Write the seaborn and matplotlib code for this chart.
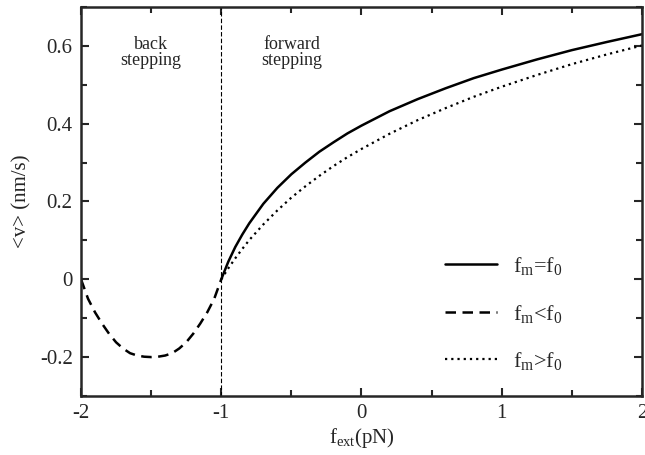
import matplotlib
matplotlib.use("Agg")
import matplotlib.pyplot as plt
import seaborn as sns
import pandas as pd
from matplotlib.ticker import MultipleLocator

# data
x_fwd = [-1.0, -0.95, -0.9, -0.85, -0.8, -0.7, -0.6, -0.5, -0.4, -0.3, -0.2, -0.1, 0.0,
         0.2, 0.4, 0.6, 0.8, 1.0, 1.25, 1.5, 1.75, 2.0]
v_equal = [0.0, 0.045, 0.083, 0.115, 0.144, 0.194, 0.235, 0.270, 0.300, 0.328, 0.352, 0.375, 0.395,
           0.432, 0.463, 0.491, 0.517, 0.539, 0.565, 0.589, 0.610, 0.630]
v_greater = [0.0, 0.028, 0.054, 0.078, 0.101, 0.141, 0.177, 0.210, 0.239, 0.266, 0.291, 0.314, 0.335,
             0.374, 0.409, 0.440, 0.469, 0.495, 0.525, 0.553, 0.578, 0.601]
x_back = [-2.0, -1.95, -1.9, -1.85, -1.8, -1.75, -1.7, -1.65, -1.6, -1.55, -1.5, -1.45, -1.4,
          -1.35, -1.3, -1.25, -1.2, -1.15, -1.1, -1.05, -1.0]
v_less = [0.0, -0.05, -0.085, -0.114, -0.14, -0.162, -0.178, -0.19, -0.196, -0.199, -0.2, -0.199,
          -0.196, -0.19, -0.178, -0.162, -0.14, -0.114, -0.085, -0.05, 0.0]

labels = [r"f$_{\rm m}$=f$_0$", r"f$_{\rm m}$<f$_0$", r"f$_{\rm m}$>f$_0$"]
region_labels = ["back\nstepping", "forward\nstepping"]
x_ticks = [-2, -1, 0, 1, 2]
y_ticks = [-0.2, 0, 0.2, 0.4, 0.6]
y_tick_labels = ["-0.2", "0", "0.2", "0.4", "0.6"]

sns.set_style("ticks")
plt.rcParams["font.family"] = ["Liberation Serif", "DejaVu Serif"]
plt.rcParams["mathtext.fontset"] = "custom"
plt.rcParams["mathtext.rm"] = "Liberation Serif"
plt.rcParams["mathtext.it"] = "Liberation Serif:italic"

df_eq = pd.DataFrame({"x": x_fwd, "v": v_equal})
df_gt = pd.DataFrame({"x": x_fwd, "v": v_greater})
df_lt = pd.DataFrame({"x": x_back, "v": v_less})

fig = plt.figure(figsize=(6.45, 4.55), dpi=100)
ax = fig.add_axes([0.1256, 0.1297, 0.8697, 0.855])

sns.lineplot(data=df_eq, x="x", y="v", ax=ax, color="black", lw=1.8, label=labels[0])
sns.lineplot(data=df_lt, x="x", y="v", ax=ax, color="black", lw=1.8, label=labels[1])
ax.lines[-1].set_dashes([4.2, 2.6])
sns.lineplot(data=df_gt, x="x", y="v", ax=ax, color="black", lw=1.6, label=labels[2])
ax.lines[-1].set_dashes([1, 1.8])

ax.axvline(-1, color="black", lw=0.8, ls=(0, (4, 2)))

ax.set_xlim(-2, 2)
ax.set_ylim(-0.3, 0.7)
ax.set_xticks(x_ticks)
ax.set_xticklabels([str(t) for t in x_ticks])
ax.set_yticks(y_ticks)
ax.set_yticklabels(y_tick_labels)
ax.xaxis.set_minor_locator(MultipleLocator(0.5))
ax.yaxis.set_minor_locator(MultipleLocator(0.1))
ax.tick_params(which="both", direction="in", top=True, right=True, width=1.5, labelsize=15, pad=6)
ax.tick_params(which="major", length=6)
ax.tick_params(which="minor", length=4)
for s in ax.spines.values():
    s.set_linewidth(1.8)

ax.set_xlabel(r"f$_{\rm ext}$(pN)", fontsize=15, labelpad=2)
ax.set_ylabel("<v> (nm/s)", fontsize=15, labelpad=6)

ax.text(-1.5, 0.625, region_labels[0], ha="center", va="top", fontsize=13, linespacing=0.95)
ax.text(-0.5, 0.625, region_labels[1], ha="center", va="top", fontsize=13, linespacing=0.95)

leg = ax.legend(loc="upper left", bbox_to_anchor=(0.649, 0.362), borderaxespad=0, borderpad=0,
                frameon=False, fontsize=16, labelspacing=1.15, handlelength=2.35, handletextpad=0.7)

fig.savefig("out.png", dpi=100)
